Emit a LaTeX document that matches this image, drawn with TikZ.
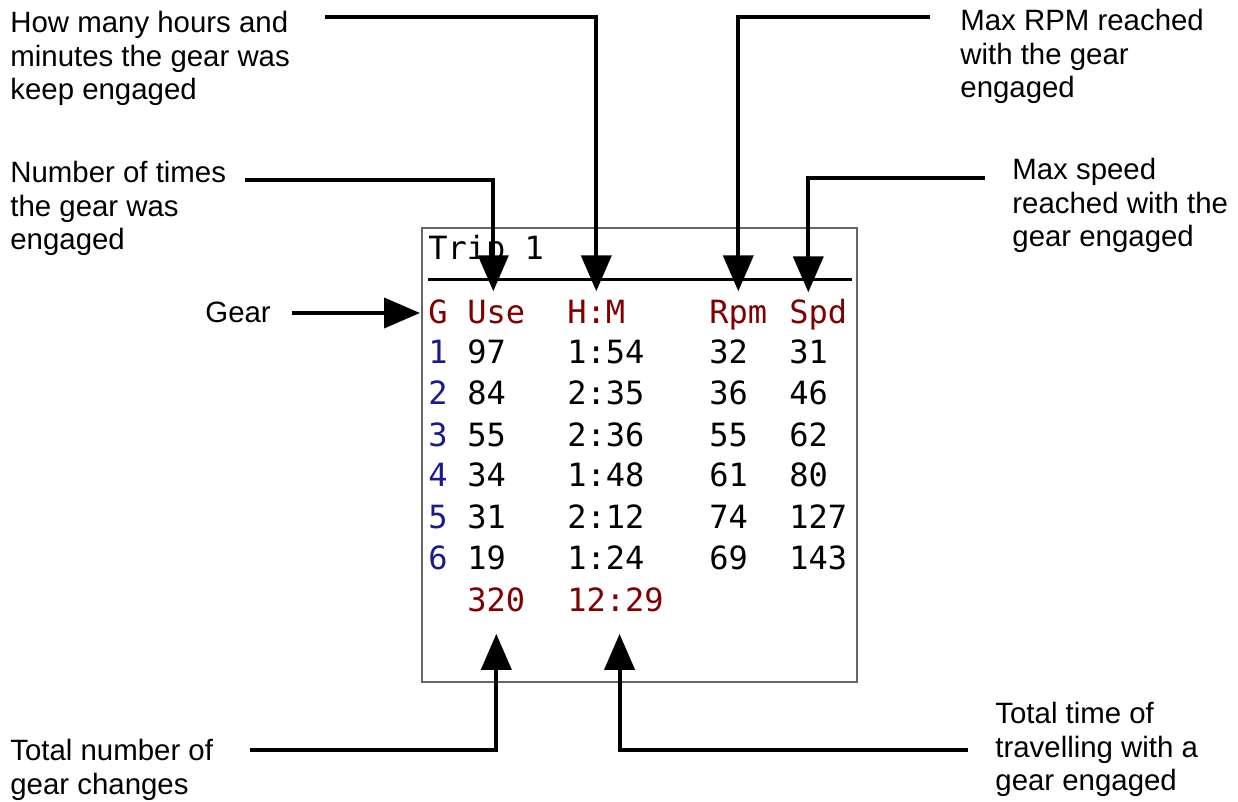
\documentclass[tikz,border=0pt]{standalone}
\usepackage{fontspec}
\setmainfont{Liberation Sans}
\setmonofont{DejaVu Sans Mono}
\usepackage{xcolor}
\usetikzlibrary{arrows.meta}
\definecolor{lcdred}{HTML}{800000}
\definecolor{lcdblue}{HTML}{1A1A8C}

\begin{document}
\begin{tikzpicture}[x=0.5pt,y=-0.5pt]
          % Define styles
          \tikzstyle{callout} = [line width=2pt, -{Triangle[length=18pt,width=15pt]}]
          \tikzstyle{note} = [anchor=north west, inner sep=0pt, align=left, font=\fontsize{14.7}{16.8}\selectfont]
          \tikzstyle{lcd} = [anchor=base west, inner sep=0pt, font=\fontsize{16}{19}\selectfont\ttfamily]
          \tikzstyle{lcdhead} = [lcd, text=lcdred]
          \tikzstyle{lcdgear} = [lcd, text=lcdblue]

          \useasboundingbox (0,0) rectangle (1238,802);

          % Screen frame, title and rule
          \draw[black!60, line width=0.6pt] (422,228) rectangle (857,682);
          \node[lcd] (title) at (428,260) {Trip 1};
          \draw[line width=1.5pt] (428,280) -- (852,280);

          % Column heads
          \node[lcdhead] (g)   at (428,324) {G};
          \node[lcdhead] (use) at (467,324) {Use};
          \node[lcdhead] (hm)  at (567,324) {H:M};
          \node[lcdhead] (rpm) at (709,324) {Rpm};
          \node[lcdhead] (spd) at (789,324) {Spd};

          % Rows
          \foreach \gear/\uses/\time/\revs/\speed [count=\i] in
               {1/97/1:54/32/31, 2/84/2:35/36/46, 3/55/2:36/55/62,
                4/34/1:48/61/80, 5/31/2:12/74/127, 6/19/1:24/69/143} {
               \node[lcdgear] (gear\i) at (428,323+41*\i) {\gear};
               \node[lcd] (use\i)  at (467,323+41*\i) {\uses};
               \node[lcd] (hm\i)   at (567,323+41*\i) {\time};
               \node[lcd] (rpm\i)  at (709,323+41*\i) {\revs};
               \node[lcd] (spd\i)  at (789,323+41*\i) {\speed};
          }

          % Totals
          \node[lcdhead] (tot)  at (467,611) {320};
          \node[lcdhead] (time) at (567,611) {12:29};

          % Notes
          \node[note] (hours) at (10,11) {How many hours and\\minutes the gear was\\keep engaged};
          \node[note] (times) at (10,161) {Number of times\\the gear was\\engaged};
          \node[note] (gearnote) at (205,302) {Gear};
          \node[note] (rpmnote) at (960,9) {Max RPM reached\\with the gear\\engaged};
          \node[note] (speednote) at (1012,158) {Max speed\\reached with the\\gear engaged};
          \node[note] (changes) at (10,739) {Total number of\\gear changes};
          \node[note] (traveltime) at (995,702) {Total time of\\travelling with a\\gear engaged};

          % Line starts
          \coordinate (c-hours) at (325,17);
          \coordinate (c-times) at (245,180);
          \coordinate (c-gear)  at (292,313);
          \coordinate (c-rpm)   at (930,17);
          \coordinate (c-speed) at (985,178);
          \coordinate (c-tot)   at (250,750);
          \coordinate (c-time)  at (968,750);

          % Arrows
          \draw[callout, shorten >=4.5pt] (c-hours) -| (hm.north);
          \draw[callout, shorten >=4.5pt] (c-times) -| ([xshift=-1.5pt]use.north);
          \draw[callout, shorten >=4pt]   (c-gear) -- (c-gear -| g.west);
          \draw[callout, shorten >=4.5pt] (c-rpm) -| (rpm.north);
          \draw[callout, shorten >=3.5pt] (c-speed) -| ([xshift=-5pt]spd.north);
          \draw[callout, shorten >=11pt]  (c-tot) -| (tot.south);
          \draw[callout, shorten >=11pt]  (c-time) -| ([xshift=2pt]time.south);
\end{tikzpicture}
\end{document}
